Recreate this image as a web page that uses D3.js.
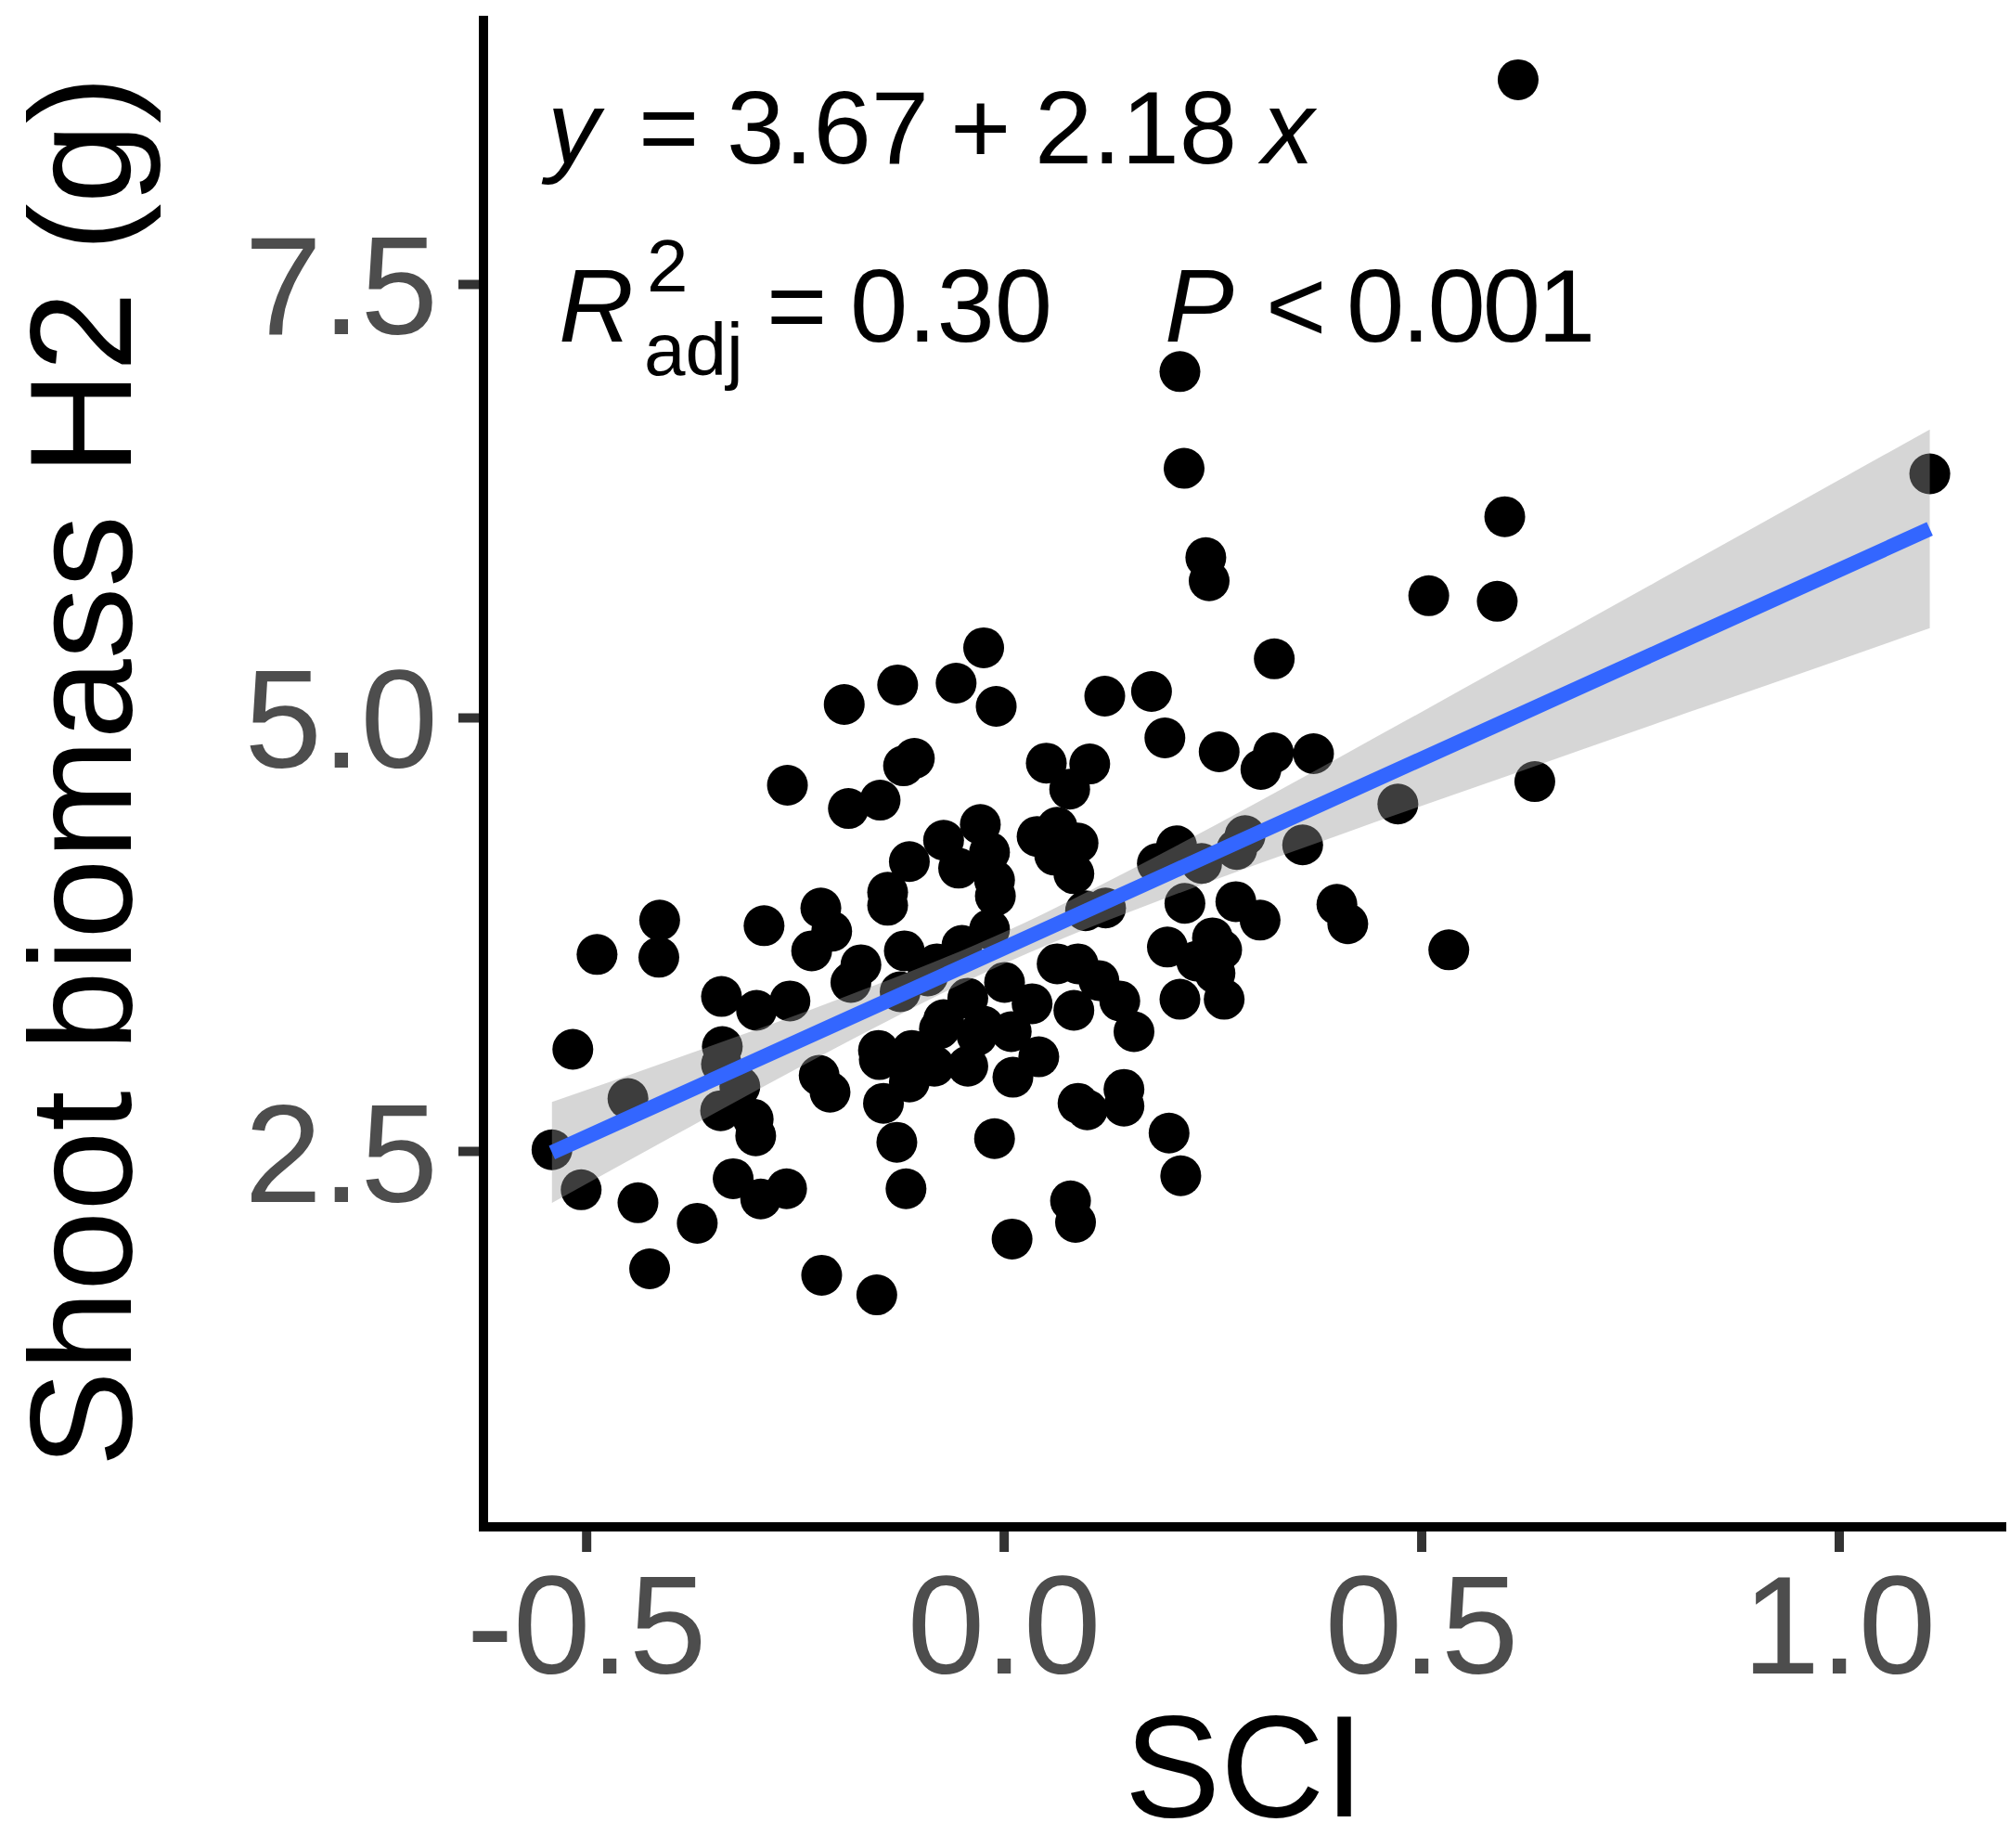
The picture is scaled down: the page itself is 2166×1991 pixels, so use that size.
<!DOCTYPE html>
<html>
<head>
<meta charset="utf-8">
<script src="https://cdn.jsdelivr.net/npm/d3@7"></script>
<style>
  html, body { margin: 0; padding: 0; background: #ffffff; }
  svg { display: block; }
  text { font-family: "Liberation Sans", Arial, sans-serif; }
</style>
</head>
<body>
<svg id="chart" width="2166" height="1991"></svg>
<script>
// ---- data ----
const sci = [
  -0.541,-0.516,-0.506,-0.487,-0.450,-0.438,-0.424,-0.412,-0.413,-0.367,
  -0.338,-0.296,-0.256,-0.337,-0.338,-0.316,-0.339,-0.300,-0.297,-0.324,
  -0.291,-0.260,-0.218,-0.152,-0.287,-0.259,-0.191,-0.127,-0.186,-0.148,
  -0.120,-0.107,-0.057,-0.024,-0.009,-0.219,-0.206,-0.230,-0.113,-0.139,
  -0.139,-0.119,-0.171,-0.183,-0.221,-0.208,-0.149,-0.144,-0.128,-0.117,
  -0.072,-0.054,-0.028,-0.017,-0.011,-0.010,
  0.051,0.103,0.079,0.040,0.064,0.089,0.061,0.084,0.121,0.177,
  0.193,0.324,0.258,0.323,0.308,0.371,0.207,0.184,0.237,0.289,
  0.279,0.358,0.472,0.217,0.278,0.307,0.399,0.412,0.196,0.250,
  0.261,0.231,0.253,0.211,0.264,0.122,0.098,-0.017,-0.050,0.001,
  0.034,0.089,0.114,0.084,0.139,0.156,0.042,0.064,-0.043,-0.077,
  -0.032,0.009,-0.080,0.011,-0.043,-0.083,
  -0.011,0.089,0.100,0.144,0.144,0.198,0.212,0.080,0.086,0.010,
  0.509,0.591,0.636,0.533,0.211,0.216,0.242,0.246,0.600,0.616,1.109,
  -0.150,-0.110,-0.113,-0.024,-0.072,-0.091,-0.124
];
const shootBiomass = [
  2.507,3.086,2.276,3.633,2.802,2.201,1.820,3.831,3.617,2.083,
  3.391,3.311,3.365,3.102,3.000,2.871,2.732,2.684,2.587,2.340,
  2.223,2.282,1.783,1.670,3.799,4.609,5.075,5.188,4.475,4.523,
  4.721,4.764,5.198,5.402,5.064,3.901,3.767,3.654,4.169,3.992,
  3.917,3.654,3.574,3.472,2.936,2.839,3.027,2.775,2.550,2.282,
  4.292,4.131,4.383,4.223,4.062,3.971,
  4.737,4.732,4.587,4.314,4.367,4.276,4.206,4.099,5.123,5.150,
  4.882,5.338,4.802,4.796,4.700,4.791,4.260,4.158,4.158,4.319,
  4.239,4.265,4.501,3.928,3.938,3.831,3.922,3.810,3.676,3.729,
  3.660,3.595,3.525,3.375,3.375,3.901,3.885,3.778,3.686,3.472,
  3.349,3.579,3.483,3.311,3.365,3.188,3.043,3.579,3.381,3.204,
  3.166,3.188,3.579,2.925,2.989,2.989,
  2.571,2.775,2.737,2.855,2.759,2.603,2.357,2.212,2.088,1.992,
  5.702,5.670,4.630,3.660,6.995,6.437,5.922,5.788,6.158,8.678,6.405,
  3.080,3.080,2.898,3.220,3.257,3.509,3.418
];

// fitted line and its confidence band, read at several SCI values
const bandX     = [-0.541, -0.4, -0.2, 0, 0.2, 0.4, 0.6, 0.8, 1.0, 1.109];
const bandFit   = [2.491, 2.798, 3.234, 3.670, 4.106, 4.542, 4.978, 5.414, 5.850, 6.088];
const bandLower = [2.200, 2.575, 3.097, 3.579, 3.969, 4.319, 4.658, 4.996, 5.331, 5.515];
const bandUpper = [2.782, 3.021, 3.371, 3.761, 4.243, 4.765, 5.298, 5.832, 6.369, 6.661];

const xTicks = [-0.5, 0.0, 0.5, 1.0];
const yTicks = [2.5, 5.0, 7.5];
const xTitle = "SCI";
const yTitle = "Shoot biomass H2 (g)";

// ---- layout ----
const svg = d3.select("#chart");
const x = d3.scaleLinear().domain([-0.623, 1.2006]).range([521, 2162]);
const y = d3.scaleLinear().domain([0.332, 9.047]).range([1645, 17]);

// points
svg.append("g").selectAll("circle")
  .data(sci.map((v, i) => [v, shootBiomass[i]]))
  .join("circle")
  .attr("cx", d => x(d[0]))
  .attr("cy", d => y(d[1]))
  .attr("r", 22)
  .attr("fill", "#000000");

// band
const bandData = bandX.map((v, i) => ({x: v, lo: bandLower[i], hi: bandUpper[i], fit: bandFit[i]}));
svg.append("path")
  .datum(bandData)
  .attr("d", d3.area().x(d => x(d.x)).y0(d => y(d.lo)).y1(d => y(d.hi)).curve(d3.curveMonotoneX))
  .attr("fill", "#999999")
  .attr("fill-opacity", 0.4);

// fitted line
svg.append("path")
  .datum(bandData)
  .attr("d", d3.line().x(d => x(d.x)).y(d => y(d.fit)))
  .attr("fill", "none")
  .attr("stroke", "#3366FF")
  .attr("stroke-width", 16);

// axes
const xAxis = d3.axisBottom(x).tickValues(xTicks).tickFormat(d3.format(".1f"))
  .tickSize(27).tickSizeOuter(0).tickPadding(24);
const yAxis = d3.axisLeft(y).tickValues(yTicks).tickFormat(d3.format(".1f"))
  .tickSize(27).tickSizeOuter(0).tickPadding(22);

const gx = svg.append("g").attr("transform", "translate(0,1645)").call(xAxis);
const gy = svg.append("g").attr("transform", "translate(521,0)").call(yAxis);
[gx, gy].forEach(g => {
  g.select(".domain").remove();
  g.selectAll(".tick line").attr("stroke", "#333333").attr("stroke-width", 10);
  g.selectAll(".tick text")
    .attr("fill", "#4D4D4D")
    .style("font-family", '"Liberation Sans", Arial, sans-serif')
    .style("font-size", "150px");
});
gx.selectAll(".tick text").text(d => d3.format(".1f")(d).replace("−", "-"));
gy.selectAll(".tick text").attr("dy", "0.36em");

// axis lines
svg.append("line").attr("x1", 521).attr("x2", 521).attr("y1", 17).attr("y2", 1650)
  .attr("stroke", "#000").attr("stroke-width", 10);
svg.append("line").attr("x1", 516).attr("x2", 2162).attr("y1", 1645).attr("y2", 1645)
  .attr("stroke", "#000").attr("stroke-width", 10);

// axis titles
svg.append("text").attr("x", 1341).attr("y", 1957).attr("text-anchor", "middle")
  .style("font-size", "155px").attr("fill", "#000").text(xTitle);
svg.append("text").attr("transform", "translate(141,831) rotate(-90)").attr("text-anchor", "middle")
  .style("font-size", "155px").attr("fill", "#000").text(yTitle);

// annotation
const ann = svg.append("g").attr("fill", "#000");
function piece(txt, px, py, size, italic, spacing) {
  ann.append("text").attr("x", px).attr("y", py)
    .style("font-size", size + "px")
    .style("font-style", italic ? "italic" : "normal")
    .style("letter-spacing", (spacing || 0) + "px")
    .text(txt);
}
piece("y", 590, 176, 112, true);
piece("=", 688, 176, 112, false);
piece("3.67", 783, 176, 112, false);
piece("+", 1024, 176, 112, false);
piece("2.18", 1115, 176, 112, false);
piece("x", 1360, 176, 112, true);

piece("R", 602, 368, 112, true);
piece("2", 697, 314, 80, false);
piece("adj", 694, 404, 80, false);
piece("=", 826, 368, 112, false);
piece("0.30", 916, 368, 112, false);
piece("P", 1255, 368, 112, true);
piece("<", 1364, 368, 112, false);
piece("0.001", 1451, 368, 112, false, -3);
</script>
</body>
</html>
